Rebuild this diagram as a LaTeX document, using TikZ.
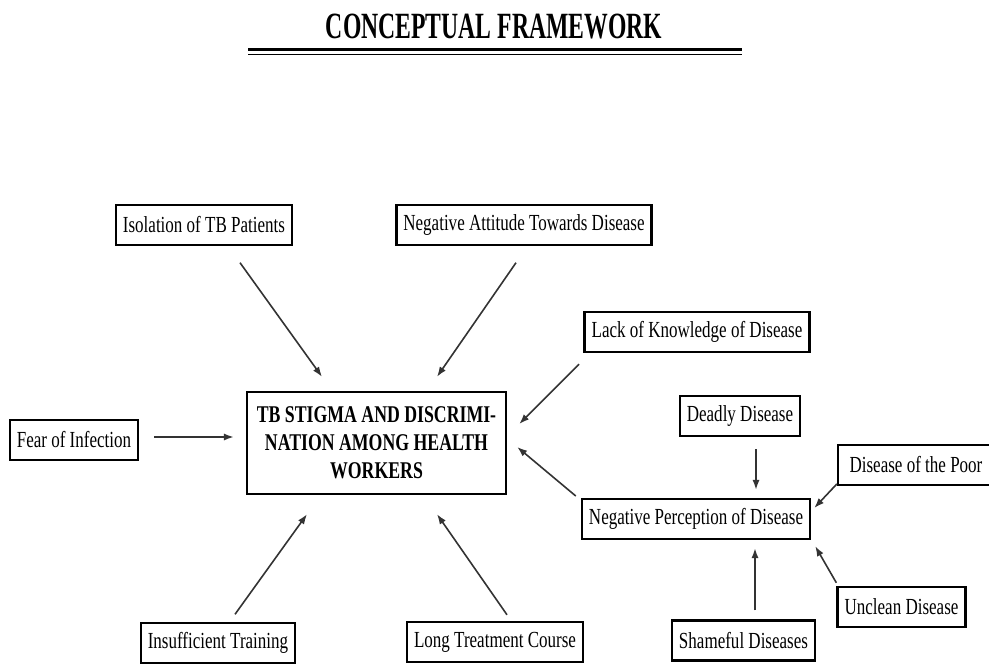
\documentclass[tikz,border=0pt]{standalone}
\usepackage{fontspec}
\setmainfont[FakeStretch=0.74]{Liberation Serif}
\newfontfamily\titlefont[FakeStretch=0.64]{Liberation Serif}
\usetikzlibrary{positioning, arrows.meta, calc}
\definecolor{colLine}{HTML}{333333}

\begin{document}
\begin{tikzpicture}[
    x=0.5pt, y=-0.5pt,
    font=\fontsize{11.5}{13}\selectfont,
    >={Latex[length=5pt, width=3.6pt]},
    box/.style={draw, line width=1.2pt, align=center,
                inner xsep=3.5pt, inner ysep=2pt, minimum height=20pt},
    corebox/.style={box, font=\fontsize{12}{14}\selectfont\bfseries,
                minimum width=129.5pt, minimum height=51pt},
    arr/.style={->, line width=0.8pt, draw=colLine},
]
\useasboundingbox (0,0) rectangle (989,664);

% ---- Title -----------------------------------------------------------------
\node[font=\titlefont\fontsize{18.5}{20}\selectfont\bfseries] (title) at (494,27)
    {CONCEPTUAL FRAMEWORK};
\coordinate (ulA) at (248,49.5);
\coordinate (ulB) at (742,49.5);
\draw[line width=1.5pt] (ulA) -- (ulB);
\draw[line width=0.6pt] ([yshift=-2.4pt]ulA) -- ([yshift=-2.4pt]ulB);

% ---- Central box -----------------------------------------------------------
\node[corebox] (core) at (376.5,443)
    {TB STIGMA AND DISCRIMI-\\NATION AMONG HEALTH\\WORKERS};

% ---- Factors round the centre ----------------------------------------------
\node[box] (iso)    at (204,225)   {Isolation of TB Patients};
\node[box] (att)    at (524,225)   {Negative Attitude Towards Disease};
\node[box] (lack)   at (697,332)   {Lack of Knowledge of Disease};
\node[box] (fear)   at (74,440)    {Fear of Infection};
\node[box] (insuf)  at (218,643)   {Insufficient Training};
\node[box] (longt)  at (495,642)   {Long Treatment Course};

% ---- Perception cluster ----------------------------------------------------
\node[box] (negp)    at (696,519)   {Negative Perception of Disease};
\node[box] (deadly)  at (740,416)   {Deadly Disease};
\node[box, minimum width=78pt] (poor) at (916,465) {Disease of the Poor};
\node[box] (unclean) at (901.5,607) {Unclean Disease};
\node[box] (shame)   at (743.5,640.5) {Shameful Diseases};

% ---- Arrows into the centre ------------------------------------------------
\draw[arr] ([xshift=18pt,yshift=-8.25pt]iso.south)   -- ([xshift=-27.25pt,yshift=7pt]core.north);
\draw[arr] ([xshift=-4pt,yshift=-8.25pt]att.south)   -- ([xshift=30.25pt,yshift=7pt]core.north);
\draw[arr] ([xshift=7.5pt,yshift=1.5pt]fear.east)    -- ([xshift=-6pt,yshift=3pt]core.west);
\draw[arr] ([xshift=-59pt,yshift=-5.5pt]lack.south)  -- ([xshift=6pt,yshift=9.5pt]core.east);
\draw[arr] ([xshift=-2.5pt,yshift=11.5pt]negp.west)  -- ([xshift=5pt,yshift=-2pt]core.east);
\draw[arr] ([xshift=8.5pt,yshift=3.75pt]insuf.north) -- ([xshift=-34.75pt,yshift=-9.5pt]core.south);
\draw[arr] ([xshift=6pt,yshift=3pt]longt.north)      -- ([xshift=30.25pt,yshift=-9.5pt]core.south);

% ---- Arrows into the perception box ----------------------------------------
\draw[arr] ([xshift=8pt,yshift=-6pt]deadly.south)     -- ([xshift=30pt,yshift=4pt]negp.north);
\draw[arr] ([xshift=0pt,yshift=-9.5pt]poor.west)      -- ([xshift=1.5pt,yshift=5.5pt]negp.east);
\draw[arr] ([yshift=1.5pt]unclean.north west)          -- ([xshift=2pt,yshift=-3pt]negp.south east);
\draw[arr] ([xshift=5.75pt,yshift=4.5pt]shame.north)  -- ([xshift=29.5pt,yshift=-4pt]negp.south);

\end{tikzpicture}
\end{document}
